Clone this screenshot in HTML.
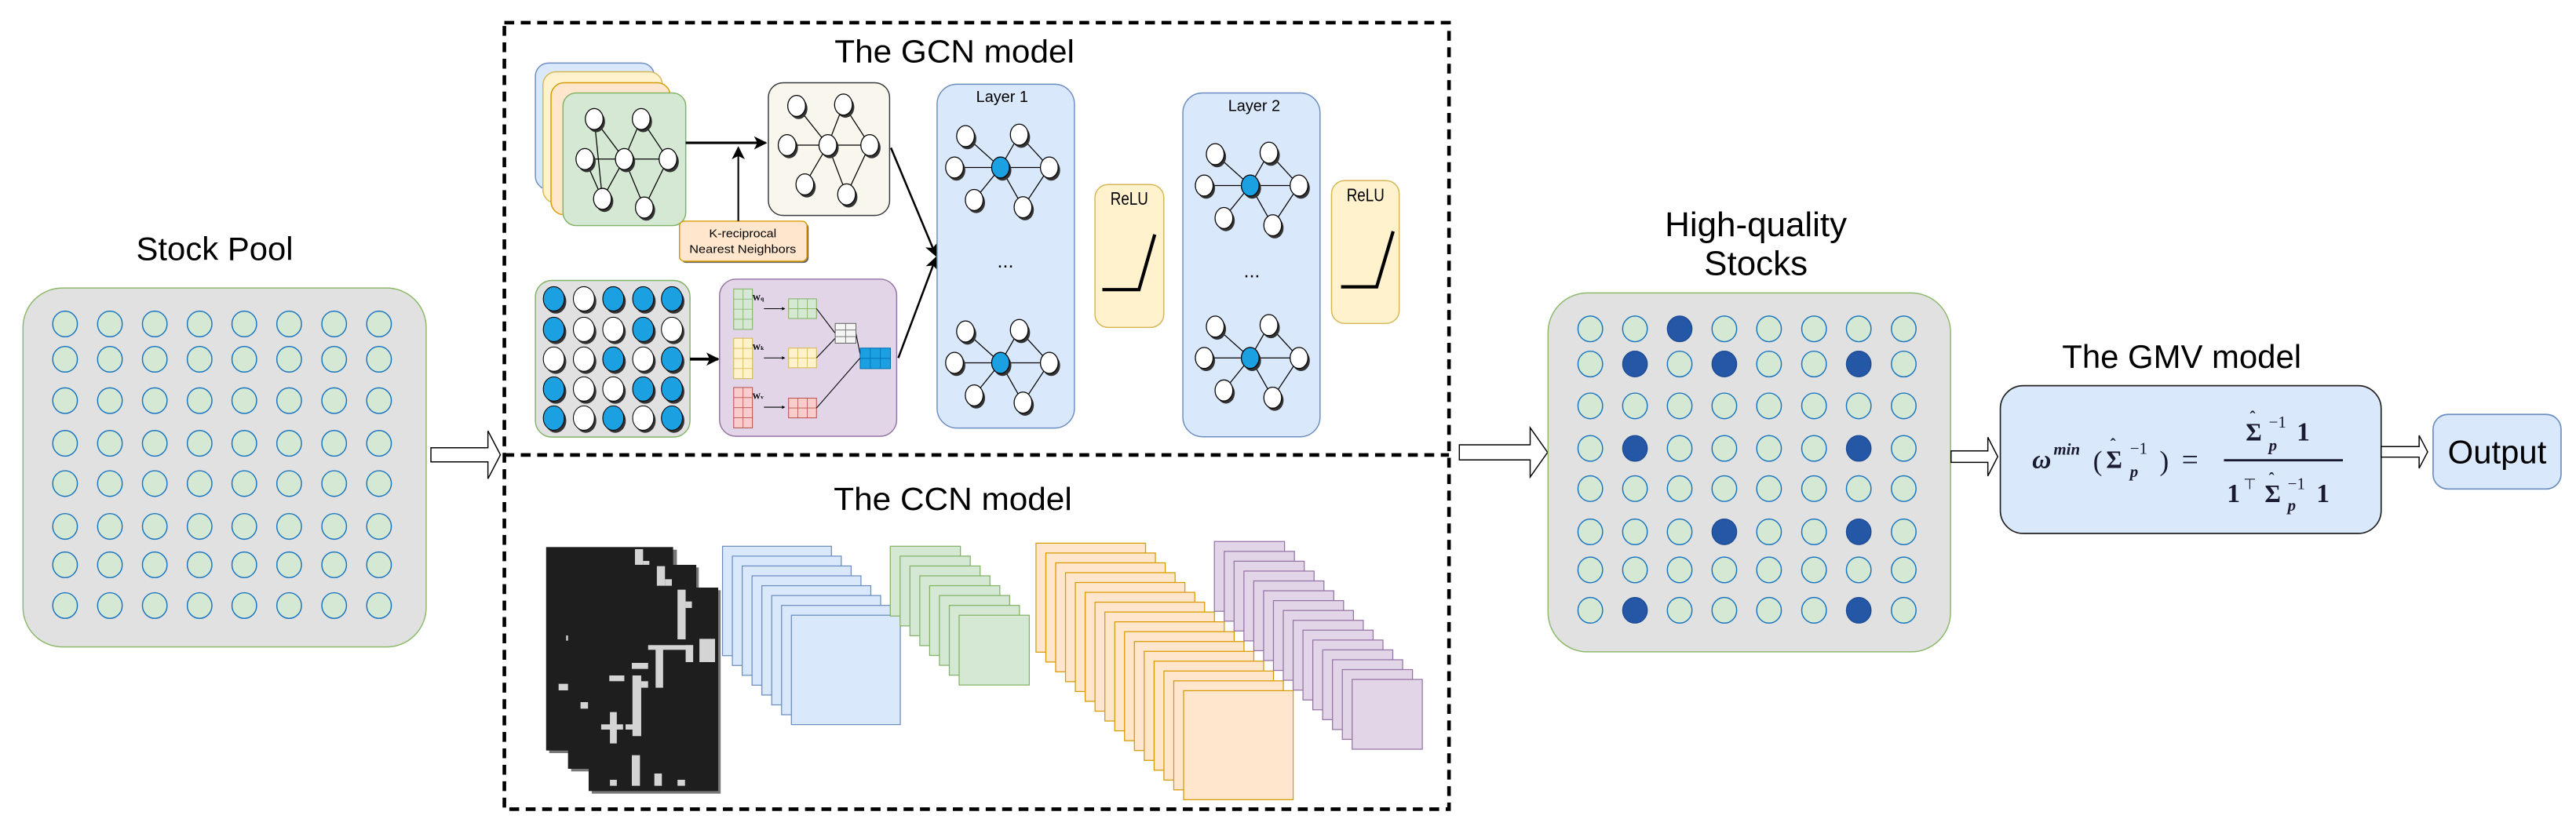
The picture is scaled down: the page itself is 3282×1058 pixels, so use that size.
<!DOCTYPE html>
<html><head><meta charset="utf-8"><style>
html,body{margin:0;padding:0;background:#fff;}
svg{display:block;}
text{font-family:"Liberation Sans",sans-serif;}
.f text{font-family:"Liberation Serif",serif;}
</style></head><body>
<svg id="s" width="3282" height="1058" viewBox="0 0 1568 505.5" preserveAspectRatio="none">
<defs>
<marker id="ah" markerWidth="8" markerHeight="8" refX="7" refY="4" orient="auto" markerUnits="userSpaceOnUse"><path d="M0,0 L8,4 L0,8 L2,4 z" fill="#000"/></marker>
</defs>
<g id="shapes"></g>
<g id="txt">
<text x="130.7" y="158.5" font-size="20" text-anchor="middle">Stock Pool</text>
<text x="581" y="38" font-size="19.5" text-anchor="middle" textLength="146" lengthAdjust="spacingAndGlyphs">The GCN model</text>
<text x="580" y="310.6" font-size="19.5" text-anchor="middle" textLength="145" lengthAdjust="spacingAndGlyphs">The CCN model</text>
<text x="610" y="62.2" font-size="9.5" text-anchor="middle">Layer 1</text>
<text x="763.4" y="67.7" font-size="9.5" text-anchor="middle">Layer 2</text>
<text x="687.4" y="124.6" font-size="11" text-anchor="middle" textLength="23" lengthAdjust="spacingAndGlyphs">ReLU</text>
<text x="831.2" y="122.5" font-size="11" text-anchor="middle" textLength="23" lengthAdjust="spacingAndGlyphs">ReLU</text>
<text x="452.1" y="144.6" font-size="7" text-anchor="middle" textLength="41" lengthAdjust="spacingAndGlyphs">K-reciprocal</text>
<text x="452.1" y="154.2" font-size="7" text-anchor="middle" textLength="65" lengthAdjust="spacingAndGlyphs">Nearest Neighbors</text>
<text x="612" y="163" font-size="12" text-anchor="middle">...</text>
<text x="762" y="169" font-size="12" text-anchor="middle">...</text>
<text x="1068.8" y="143.8" font-size="21" text-anchor="middle">High-quality</text>
<text x="1068.8" y="167.5" font-size="21" text-anchor="middle">Stocks</text>
<text x="1328" y="224.2" font-size="20" text-anchor="middle">The GMV model</text>
<text x="1520" y="282.2" font-size="20" text-anchor="middle">Output</text>
<g class="f" fill="#1a1a33">
<text x="1237" y="285.1" font-size="16" font-style="italic" font-weight="bold">ω</text>
<text x="1250" y="276.8" font-size="10" font-style="italic" font-weight="bold">min</text>
<text x="1274" y="286.5" font-size="17">(</text>
<text x="1282" y="285" font-size="15" font-weight="bold">Σ</text>
<text x="1284.5" y="274" font-size="10" font-weight="bold">ˆ</text>
<text x="1296.5" y="276.3" font-size="10">−1</text>
<text x="1296.5" y="290.5" font-size="10" font-style="italic" font-weight="bold">p</text>
<text x="1314.5" y="286.5" font-size="17">)</text>
<text x="1328" y="286" font-size="18">=</text>
<text x="1367" y="268.4" font-size="15" font-weight="bold">Σ</text>
<text x="1369.5" y="257.4" font-size="10" font-weight="bold">ˆ</text>
<text x="1381" y="260.4" font-size="10">−1</text>
<text x="1381" y="274.5" font-size="10" font-style="italic" font-weight="bold">p</text>
<text x="1398" y="268.4" font-size="16" font-weight="bold">1</text>
<text x="1355.5" y="305.8" font-size="16" font-weight="bold">1</text>
<text x="1365.5" y="297.8" font-size="9">⊤</text>
<text x="1378.5" y="305.8" font-size="15" font-weight="bold">Σ</text>
<text x="1381" y="294.8" font-size="10" font-weight="bold">ˆ</text>
<text x="1392.5" y="297.8" font-size="10">−1</text>
<text x="1392.5" y="311" font-size="10" font-style="italic" font-weight="bold">p</text>
<text x="1410" y="305.8" font-size="16" font-weight="bold">1</text>
</g>
<g class="f" font-weight="bold" font-size="5">
<text x="458" y="183">W<tspan font-size="3.5">q</tspan></text>
<text x="458" y="213">W<tspan font-size="3.5">k</tspan></text>
<text x="458" y="243">W<tspan font-size="3.5">v</tspan></text>
</g>
</g>
</svg>
<script>
var h='';
function R(x,y,w,hh,f,s,sw,rx){h+='<rect x="'+x+'" y="'+y+'" width="'+w+'" height="'+hh+'" fill="'+f+'" stroke="'+s+'" stroke-width="'+(sw==null?0.8:sw)+'" rx="'+(rx||0)+'"/>';}
function E(cx,cy,rx,ry,f,s,sw){h+='<ellipse cx="'+cx+'" cy="'+cy+'" rx="'+rx+'" ry="'+ry+'" fill="'+f+'" stroke="'+s+'" stroke-width="'+(sw==null?0.6:sw)+'"/>';}
function L(x1,y1,x2,y2,s,sw,m){h+='<line x1="'+x1+'" y1="'+y1+'" x2="'+x2+'" y2="'+y2+'" stroke="'+s+'" stroke-width="'+sw+'"'+(m?' marker-end="url(#ah)"':'')+'/>';}
function P(d,f,s,sw){h+='<path d="'+d+'" fill="'+f+'" stroke="'+s+'" stroke-width="'+sw+'"/>';}
function HA(x1,x2,xh,yc,sh,hh){
  P('M'+x1+','+(yc-sh)+' L'+xh+','+(yc-sh)+' L'+xh+','+(yc-hh)+' L'+x2+','+yc+' L'+xh+','+(yc+hh)+' L'+xh+','+(yc+sh)+' L'+x1+','+(yc+sh)+' Z','#fff','#000',0.7);
}
R(14,175.4,245.4,218.6,'#e1e1e1','#8db96b',0.7,24);
var cx=[39.6,66.9,94.2,121.5,148.7,176,203.4,230.7], cy=[197.3,218.8,244,270,294.5,320.6,344,368.8];
for(var i=0;i<8;i++)for(var j=0;j<8;j++)E(cx[j],cy[i],7.5,7.8,'#d5e8d4','#1a75c0',0.7);
HA(262.3,304.6,297,277,4.3,14.6);
h+='<rect x="307" y="13.8" width="575" height="479" fill="none" stroke="#000" stroke-width="2.2" stroke-dasharray="6,4"/>';
L(307,277.1,882,277.1,'#000',2.2);
h+='<line x1="307" y1="277.1" x2="882" y2="277.1" stroke="#fff" stroke-width="2.6" stroke-dasharray="4,6" stroke-dashoffset="-6"/>';
R(325.9,38.4,72.4,77,'#dae8fc','#6c8ebf',0.7,8);
R(330.5,43.7,72.7,80,'#fff2cc','#d6b656',0.7,8);
R(335.4,50.4,72.6,80.4,'#ffe6cc','#d79b00',0.7,8);
R(342.7,56.6,74.7,80.8,'#d5e8d4','#82b366',0.7,8);
function G(x0,y0,rel,blue,extra){
  var ed=[[0,3],[1,3],[1,4],[2,3],[3,4],[3,5],[3,6],[4,6]].concat(extra||[]);
  ed.forEach(function(e){L(x0+rel[e[0]][0],y0+rel[e[0]][1],x0+rel[e[1]][0],y0+rel[e[1]][1],'#000',0.6);});
  rel.forEach(function(p,k){
    E(x0+p[0]+1.2,y0+p[1]+1.6,5.4,6.4,'#333','none',0);
    E(x0+p[0],y0+p[1],5.4,6.4,(blue&&k==3)?'#1ba1e2':'#fff','#000',0.6);
  });
}
var lr=[[-21.3,-19.1],[11.4,-20],[-28,0],[0,0],[29.7,0],[-16,19.8],[13.7,24.2]];
G(380,96.9,[[-18.3,-24.4],[10.3,-24.4],[-24,0],[0,0],[26.6,0],[-13.3,24.2],[12.2,29.5]],false,[[0,5],[2,5]]);
R(414.6,135.7,77.6,24.4,'#666','none',0,3);
R(413.6,134.7,77.6,24.4,'#ffe6cc','#d79b00',0.7,3);
L(417.4,87,466,87,'#000',1.5,true);
L(449.4,134.7,449.4,90,'#000',1,true);
R(467.7,50.4,73.8,80.8,'#f9f7ed','#36393d',0.7,9);
G(503.9,88.4,[[-19,-23.9],[9.5,-24.7],[-24.8,0],[0,0],[25.5,0],[-14,23.9],[11.4,30]],false);
R(325.9,170.8,94.1,95.4,'#e1e1e1','#82b366',0.7,10);
var gx=[337.1,355.4,373.3,391.5,409],gy=[182,200.6,218.7,236.9,254.6];
var pat=['BWBBB','BWWBW','WWBWB','BWWBB','BWBWB'];
for(var i=0;i<5;i++)for(var j=0;j<5;j++){E(gx[j]+1.2,gy[i]+1.6,6.4,7.4,'#333','none',0);E(gx[j],gy[i],6.4,7.4,pat[i][j]=='B'?'#1ba1e2':'#fff','#000',0.5);}
L(420,218.7,437,218.7,'#000',1.8,true);
R(438,170,107.8,95.7,'#e1d5e7','#9673a6',0.7,10);
function M(x,y,w,hh,c,r,f,s){R(x,y,w,hh,f,s,0.5,0);for(var a=1;a<c;a++)L(x+w*a/c,y,x+w*a/c,y+hh,s,0.4);for(var b=1;b<r;b++)L(x,y+hh*b/r,x+w,y+hh*b/r,s,0.4);}
M(446.6,176,11.4,24.6,2,4,'#d5e8d4','#82b366');
M(446.6,206,11.4,24.6,2,4,'#fff2cc','#d6b656');
M(446.6,236,11.4,24.6,2,4,'#f8cecc','#b85450');
[188,218,248].forEach(function(y){L(465,y,476,y,'#000',0.5);P('M476,'+(y-1)+' L478,'+y+' L476,'+(y+1)+'Z','#000','none',0);});
M(480,182,17,12,3,2,'#d5e8d4','#82b366');
M(480,212,17,12,3,2,'#fff2cc','#d6b656');
M(480,242.5,17,12,3,2,'#f8cecc','#b85450');
L(497,188,508.4,203,'#000',0.5);L(497,218,508.4,206,'#000',0.5);
L(497,248.5,523.6,218,'#000',0.5);L(521,203,523.6,216,'#000',0.5);
M(508.4,197,12.6,12,2,3,'#f5f5f5','#666');
M(523.6,212,18.4,12.5,3,2,'#1ba1e2','#006eaf');
L(542.3,90,569.7,155.6,'#000',1.2,true);
L(546.8,218,569.7,157,'#000',1.2,true);
R(570.4,51.3,83.6,209.4,'#dae8fc','#6c8ebf',0.7,12);
R(720,56.6,83.5,209.4,'#dae8fc','#6c8ebf',0.7,12);
G(609,102,lr,true);G(609,221,lr,true);G(761,113,lr,true);G(761,218,lr,true);
R(666.5,112.4,41.9,87,'#fff2cc','#d6b656',0.7,8);
R(810.5,110,41.2,87,'#fff2cc','#d6b656',0.7,8);
P('M671,176.4 L693.3,176.4 L702.9,142.8','none','#000',2);
P('M816.3,174.7 L838,174.7 L848,140.9','none','#000',2);
function zx(x){return (620+x/1.2544)/2.093;} function zy(y){return (570+y/3)/2.093;}
function ZR(x1,y1,x2,y2,f){R(zx(x1),zy(y1),zx(x2)-zx(x1),zy(y2)-zy(y1),f,'none',0,0);}
ZR(100,392,304,1170,'#777');ZR(95,382,298,1160,'#1e1e1e');
ZR(237,390,250,450,'#d4d4d4');ZR(250,435,260,450,'#d4d4d4');ZR(127,720,131,740,'#d4d4d4');ZR(115,905,131,930,'#d4d4d4');
ZR(135,460,339,1240,'#777');ZR(130,450,335,1230,'#1e1e1e');
ZR(272,455,285,530,'#d4d4d4');ZR(285,505,296,530,'#d4d4d4');ZR(150,975,162,1000,'#d4d4d4');
ZR(168,547,374,1325,'#777');ZR(163,537,370,1315,'#1e1e1e');
[[305,545,318,735],[318,590,328,615],[258,757,330,775],[270,760,282,920],[340,733,365,822],[318,757,330,822],[232,825,258,848],[196,873,220,895],[233,873,247,1105],[247,895,258,920],[197,1013,208,1133],[183,1060,218,1080],[222,1060,245,1080],[232,1178,245,1295],[268,1248,280,1295],[197,1272,208,1295],[305,1272,317,1295]].forEach(function(a){ZR(a[0],a[1],a[2],a[3],'#d4d4d4');});
function ST(n,x0,y0,w,hh,dx,dy,f,s){for(var k=0;k<n;k++)R(x0+k*dx,y0+k*dy,w,hh,f,s,0.6,0);}
ST(8,439.8,332.7,66.3,66.6,5.99,6,'#dae8fc','#6c8ebf');
ST(8,541.9,332.7,42.7,42.5,5.99,6,'#d5e8d4','#82b366');
ST(16,630.6,330.8,66.7,66.4,5.99,5.99,'#ffe6cc','#d79b00');
ST(15,739.2,329.8,42.7,42.5,5.99,6,'#e1d5e7','#9673a6');
HA(888.3,942,931.4,275.5,4.6,15);
R(942.3,178.4,245,218.6,'#e1e1e1','#8db96b',0.7,24);
var hx=[968,995.2,1022.4,1049.6,1076.8,1104.2,1131.4,1158.8], hy=[200.3,221.7,247.2,273.1,297.6,323.9,347.1,371.7];
var dk={'0,2':1,'1,1':1,'1,3':1,'1,6':1,'3,1':1,'3,6':1,'5,3':1,'5,6':1,'7,1':1,'7,6':1};
for(var i=0;i<8;i++)for(var j=0;j<8;j++){if(dk[i+','+j])E(hx[j],hy[i],7.5,7.8,'#2457a6','#1c4a94',0.6);else E(hx[j],hy[i],7.5,7.8,'#d5e8d4','#1a75c0',0.7);}
HA(1187.6,1216,1210,278.1,3.5,11.8);
R(1217.6,234.9,231.8,90,'#dae8fc','#222',0.8,14);
L(1353.7,280.3,1426.1,280.3,'#1a1a33',1.4);
HA(1449.4,1477.7,1472.5,275.2,3.2,10);
R(1481,252.4,77.9,45.4,'#dae8fc','#6c8ebf',0.8,9);
document.getElementById('shapes').innerHTML=h;
</script>
</body></html>
